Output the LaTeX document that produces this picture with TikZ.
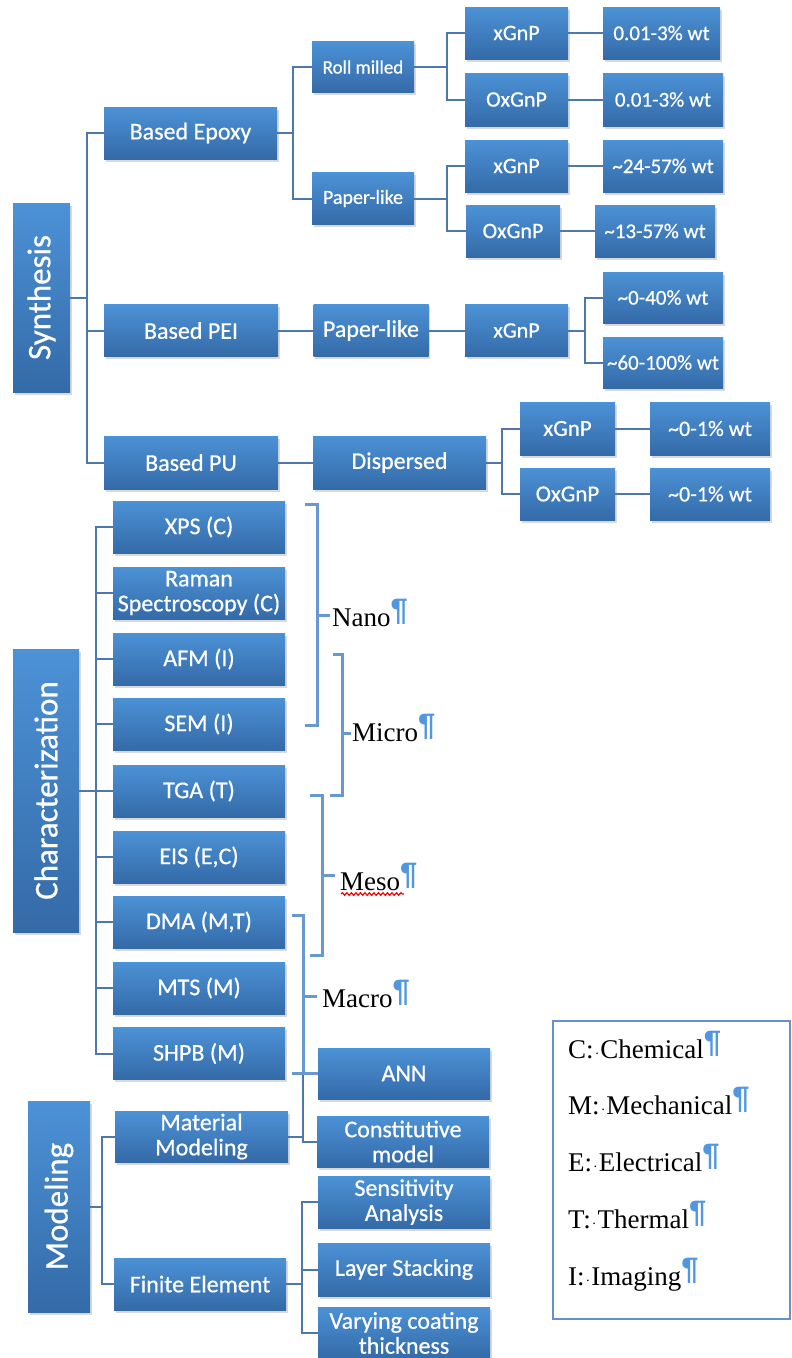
\documentclass[tikz,border=0pt]{standalone}
\usepackage{fontspec}
\newfontfamily\boxfont[FakeBold=0.6]{Carlito}
\newfontfamily\serf{Liberation Serif}
\newfontfamily\pilf{Liberation Sans}
\usetikzlibrary{shadows,decorations.pathmorphing}
\definecolor{boxtop}{RGB}{76,146,214}
\definecolor{boxbot}{RGB}{52,106,168}
\definecolor{conncol}{RGB}{78,120,172}
\definecolor{brk}{RGB}{104,152,210}
\definecolor{pil}{RGB}{80,150,225}
\definecolor{legcol}{RGB}{100,145,200}
\newcommand\pil{{\pilf\bfseries\fontsize{31}{31}\selectfont\color{pil}\raisebox{6pt}{¶}}}
\newcommand\wdot{\makebox[0.25em]{\fontsize{14}{14}\selectfont ·}}
\begin{document}
\begin{tikzpicture}[x=1pt,y=-1pt,
 bx/.style={top color=boxtop, bottom color=boxbot,
   drop shadow={opacity=0.3, shadow xshift=1.5pt, shadow yshift=-2.5pt},
   text=white, inner sep=0pt, align=center, font=\boxfont\fontsize{24}{25}\selectfont},
 vlab/.style={label={[rotate=90, text=white, inner sep=0pt, font=\boxfont\fontsize{33}{33}\selectfont]center:#1}},
 wh/.style 2 args={minimum width=#1, minimum height=#2},
 fsz/.style={font=\boxfont\fontsize{#1}{#1}\selectfont},
 conn/.style={draw=conncol, line width=2pt},
 brack/.style={draw=brk, line width=3pt},
 lab/.style={font=\serf\fontsize{27}{27}\selectfont, anchor=base west, inner sep=0pt},
]
\useasboundingbox (0,0) rectangle (792,1358);

% ---------- Synthesis ----------
\node[bx, wh={57}{189}, vlab=Synthesis] (syn) at (41.5,297.5) {};
\node[bx, wh={173}{52}] (epoxy) at (190.5,133) {Based Epoxy};
\node[bx, wh={102}{51}, fsz=19] (roll) at (363,67) {Roll milled};
\node[bx, wh={102}{52}, fsz=20] (paper1) at (363,198.5) {Paper-like};
\node[bx, wh={103}{52}, fsz=22] (xg1) at (516.5,33) {xGnP};
\node[bx, wh={117}{52}, fsz=21] (w1) at (661.5,33) {0.01-3\% wt};
\node[bx, wh={103}{53}, fsz=22] (ox1) at (516.5,99.5) {OxGnP};
\node[bx, wh={120}{53}, fsz=21] (w2) at (663,99.5) {0.01-3\% wt};
\node[bx, wh={103}{52}, fsz=22] (xg2) at (516.5,166) {xGnP};
\node[bx, wh={120}{52}, fsz=21] (w3) at (663,166) {\textasciitilde24-57\% wt};
\node[bx, wh={94}{52}, fsz=22] (ox2) at (513,231) {OxGnP};
\node[bx, wh={120}{52}, fsz=21] (w4) at (655,231) {\textasciitilde13-57\% wt};

\node[bx, wh={174}{52}] (pei) at (191,330.5) {Based PEI};
\node[bx, wh={115}{52}] (paper2) at (371,330.5) {Paper-like};
\node[bx, wh={103}{52}, fsz=22] (xg3) at (516.5,330.5) {xGnP};
\node[bx, wh={120}{51}, fsz=21] (w5) at (663,297.5) {\textasciitilde0-40\% wt};
\node[bx, wh={120}{51}, fsz=21] (w6) at (663,362.5) {\textasciitilde60-100\% wt};

\node[bx, wh={174}{53}] (pu) at (191,462.5) {Based PU};
\node[bx, wh={173}{53}] (disp) at (399.5,462.5) {Dispersed};
\node[bx, wh={95}{53}, fsz=23] (xg4) at (567.5,428.5) {xGnP};
\node[bx, wh={120}{53}, fsz=22] (w7) at (710,428.5) {\textasciitilde0-1\% wt};
\node[bx, wh={95}{52}, fsz=23] (ox4) at (567.5,494) {OxGnP};
\node[bx, wh={120}{52}, fsz=22] (w8) at (710,494) {\textasciitilde0-1\% wt};

% ---------- Characterization ----------
\node[bx, wh={66}{283}, vlab=Characterization] (char) at (46,790.5) {};
\node[bx, wh={172}{52}] (xps) at (199,527) {XPS (C)};
\node[bx, wh={172}{52}] (raman) at (199,593) {Raman\\Spectroscopy (C)};
\node[bx, wh={172}{52}] (afm) at (199,659) {AFM (I)};
\node[bx, wh={172}{52}] (sem) at (199,724) {SEM (I)};
\node[bx, wh={172}{52}] (tga) at (199,791) {TGA (T)};
\node[bx, wh={172}{52}] (eis) at (199,857) {EIS (E,C)};
\node[bx, wh={172}{52}] (dma) at (199,922) {DMA (M,T)};
\node[bx, wh={172}{52}] (mts) at (199,988) {MTS (M)};
\node[bx, wh={172}{52}] (shpb) at (199,1053.5) {SHPB (M)};

% ---------- Modeling ----------
\node[bx, wh={62}{211}, vlab=Modeling] (model) at (59,1206.5) {};
\node[bx, wh={173}{51}] (matmod) at (201.5,1136.5) {Material\\Modeling};
\node[bx, wh={172}{52}] (fe) at (200,1284) {Finite Element};
\node[bx, wh={172}{51}] (ann) at (404,1073.5) {ANN};
\node[bx, wh={172}{51}] (const) at (403,1141.5) {Constitutive\\model};
\node[bx, wh={172}{52}] (sens) at (404,1202) {Sensitivity\\Analysis};
\node[bx, wh={172}{53}] (layer) at (404,1269.5) {Layer Stacking};
\node[bx, wh={172}{52}] (vary) at (404,1333) {Varying coating\\thickness};

% ---------- connectors: synthesis ----------
\draw[conn] (syn.east) -- ++(17,0);
\draw[conn] (epoxy.west) -- ++(-17,0) |- (pu.west);
\draw[conn] (pei.west) -- ++(-17,0);
\draw[conn] (epoxy.east) -- ++(16,0);
\draw[conn] (roll.west) -- ++(-19,0) |- (paper1.west);
\draw[conn] (roll.east) -- ++(33,0);
\draw[conn] (xg1.west) -- ++(-18,0) |- (ox1.west);
\draw[conn] (xg1.east) -- (w1.west);
\draw[conn] (ox1.east) -- (w2.west);
\draw[conn] (paper1.east) -- ++(33,0);
\draw[conn] (xg2.west) -- ++(-18,0) |- (ox2.west);
\draw[conn] (xg2.east) -- (w3.west);
\draw[conn] (ox2.east) -- (w4.west);
\draw[conn] (pei.east) -- (paper2.west);
\draw[conn] (paper2.east) -- (xg3.west);
\draw[conn] (xg3.east) -- ++(17,0);
\draw[conn] (w5.west) -- ++(-18,0) |- (w6.west);
\draw[conn] (pu.east) -- (disp.west);
\draw[conn] (disp.east) -- ++(16,0);
\draw[conn] (xg4.west) -- ++(-18,0) |- (ox4.west);
\draw[conn] (xg4.east) -- (w7.west);
\draw[conn] (ox4.east) -- (w8.west);

% ---------- connectors: characterization ----------
\draw[conn] (char.east) -- ++(17,0);
\draw[conn] (xps.west) -- ++(-17,0) |- (shpb.west);
\foreach \n in {raman,afm,sem,tga,eis,dma,mts} {\draw[conn] (\n.west) -- ++(-17,0);}

% ---------- connectors: modeling ----------
\draw[conn] (model.east) -- ++(12,0);
\draw[conn] (matmod.west) -- ++(-13,0) |- (fe.west);
\draw[conn] (matmod.east) -- ++(15,0) |- (const.west);
\draw[conn] (matmod.east) ++(15,0) |- (ann.west);
\draw[conn] (fe.east) -- ++(16,0);
\draw[conn] (sens.west) -- ++(-16,0) |- (vary.west);
\draw[conn] (layer.west) -- ++(-16,0);

% ---------- scale brackets ----------
\draw[brack] (305,504) -| (317,725) -- (305,725);
\draw[brack] (317,615) -- (330,615);
\draw[brack] (333,654) -| (342,795) -- (330,795);
\draw[brack] (342,733) -- (351,733);
\draw[brack] (310,795) -| (322,955) -- (310,955);
\draw[brack] (322,875) -- (335,875);
\draw[brack] (292,915) -| (303,1073.5);
\draw[brack] (292,1073.5) -- (ann.west);
\draw[brack] (303,996) -- (317,996);

\node[lab] (nano) at (332,626) {Nano\pil};
\node[lab] (micro) at (352,741) {Micro\pil};
\node[lab] (meso) at (340,890) {Meso\pil};
\node[lab] (macro) at (322,1007) {Macro\pil};
\draw[red, line width=1.2pt, decorate, decoration={snake, amplitude=1.3pt, segment length=4.5pt}] (341,894) -- (404,894);

% ---------- legend ----------
\node[draw=legcol, line width=2pt, wh={237}{298}, anchor=north west, inner sep=0pt] (legend) at (552,1020) {};
\node[lab] (leg1) at (568,1058) {C:\wdot Chemical\pil};
\node[lab] (leg2) at (568,1114) {M:\wdot Mechanical\pil};
\node[lab] (leg3) at (568,1171) {E:\wdot Electrical\pil};
\node[lab] (leg4) at (568,1228) {T:\wdot Thermal\pil};
\node[lab] (leg5) at (568,1285) {I:\wdot Imaging\pil};
\end{tikzpicture}
\end{document}
